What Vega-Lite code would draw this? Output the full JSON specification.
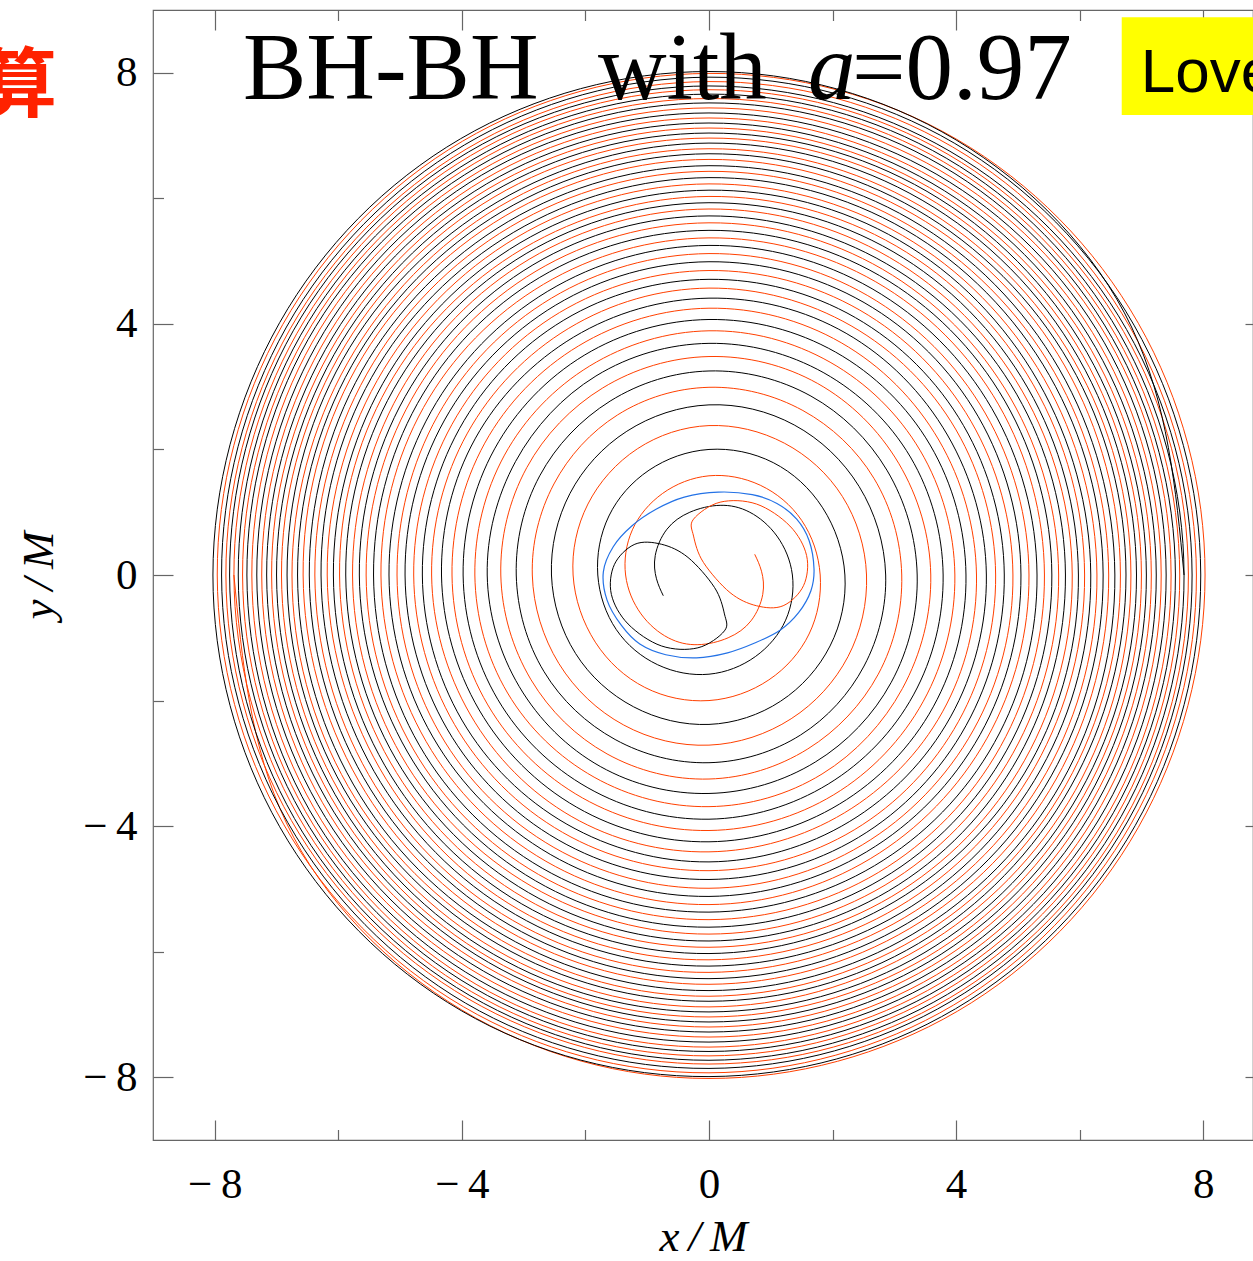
{
"$schema": "https://vega.github.io/schema/vega-lite/v6.json",
"width": 1100, "height": 1130,
"autosize": {"type": "none"},
"padding": {"left": 153, "top": 10, "right": 0, "bottom": 121},
"background": "white",
"config": {
  "view": {"stroke": "#666", "strokeWidth": 1.2},
  "axis": {"domain": false, "grid": false, "tickColor": "#666", "tickWidth": 1.2, "labelFont": "Liberation Serif", "labelFontSize": 43, "labelColor": "#000", "titleFont": "Liberation Serif", "titleFontSize": 45, "titleFontStyle": "italic", "titleFontWeight": "normal", "titleColor": "#000", "labelOverlap": false, "labelFlush": false}
},
"datasets": {
"blk": [{"x":7.69,"y":0},{"x":6.84,"y":3.95},{"x":4.0,"y":6.93},{"x":0,"y":8.02},{"x":-4.02,"y":6.95},{"x":-6.95,"y":4.02},{"x":-8.03,"y":0},{"x":-6.95,"y":-4.01},{"x":-4.01,"y":-6.94},{"x":0,"y":-7.99},{"x":3.99,"y":-6.91},{"x":6.9,"y":-3.99},
{"x":7.96,"y":0},{"x":6.88,"y":3.98},{"x":3.97,"y":6.88},{"x":0,"y":7.93},{"x":-3.96,"y":6.85},{"x":-6.84,"y":3.95},{"x":-7.89,"y":0},{"x":-6.82,"y":-3.94},{"x":-3.94,"y":-6.82},{"x":0,"y":-7.86},{"x":3.92,"y":-6.79},{"x":6.78,"y":-3.92},
{"x":7.82,"y":0},{"x":6.76,"y":3.91},{"x":3.9,"y":6.75},{"x":0,"y":7.79},{"x":-3.89,"y":6.74},{"x":-6.73,"y":3.89},{"x":-7.76,"y":0},{"x":-6.71,"y":-3.88},{"x":-3.87,"y":-6.7},{"x":0,"y":-7.73},{"x":3.86,"y":-6.68},{"x":6.67,"y":-3.85},
{"x":7.69,"y":0},{"x":6.65,"y":3.84},{"x":3.84,"y":6.64},{"x":0,"y":7.66},{"x":-3.82,"y":6.62},{"x":-6.61,"y":3.82},{"x":-7.62,"y":0},{"x":-6.59,"y":-3.81},{"x":-3.8,"y":-6.58},{"x":0,"y":-7.59},{"x":3.79,"y":-6.56},{"x":6.55,"y":-3.78},
{"x":7.55,"y":0},{"x":6.53,"y":3.77},{"x":3.77,"y":6.52},{"x":0,"y":7.52},{"x":-3.75,"y":6.5},{"x":-6.49,"y":3.75},{"x":-7.48,"y":0},{"x":-6.47,"y":-3.74},{"x":-3.73,"y":-6.45},{"x":0,"y":-7.44},{"x":3.72,"y":-6.43},{"x":6.42,"y":-3.71},
{"x":7.4,"y":0},{"x":6.4,"y":3.7},{"x":3.69,"y":6.38},{"x":0,"y":7.36},{"x":-3.68,"y":6.37},{"x":-6.35,"y":3.67},{"x":-7.32,"y":0},{"x":-6.33,"y":-3.66},{"x":-3.65,"y":-6.31},{"x":0,"y":-7.28},{"x":3.64,"y":-6.3},{"x":6.28,"y":-3.63},
{"x":7.24,"y":0},{"x":6.26,"y":3.62},{"x":3.61,"y":6.24},{"x":0,"y":7.2},{"x":-3.6,"y":6.23},{"x":-6.21,"y":3.59},{"x":-7.16,"y":0},{"x":-6.19,"y":-3.58},{"x":-3.57,"y":-6.17},{"x":0,"y":-7.12},{"x":3.56,"y":-6.16},{"x":6.14,"y":-3.55},
{"x":7.08,"y":0},{"x":6.12,"y":3.54},{"x":3.53,"y":6.11},{"x":0,"y":7.04},{"x":-3.52,"y":6.09},{"x":-6.07,"y":3.51},{"x":-7.0,"y":0},{"x":-6.05,"y":-3.5},{"x":-3.49,"y":-6.04},{"x":0,"y":-6.96},{"x":3.48,"y":-6.02},{"x":6.0,"y":-3.47},
{"x":6.92,"y":0},{"x":5.98,"y":3.46},{"x":3.45,"y":5.97},{"x":0,"y":6.88},{"x":-3.43,"y":5.94},{"x":-5.93,"y":3.43},{"x":-6.83,"y":0},{"x":-5.91,"y":-3.41},{"x":-3.4,"y":-5.89},{"x":0,"y":-6.79},{"x":3.39,"y":-5.87},{"x":5.85,"y":-3.38},
{"x":6.75,"y":0},{"x":5.84,"y":3.37},{"x":3.36,"y":5.82},{"x":0,"y":6.71},{"x":-3.35,"y":5.79},{"x":-5.78,"y":3.34},{"x":-6.66,"y":0},{"x":-5.76,"y":-3.33},{"x":-3.32,"y":-5.74},{"x":0,"y":-6.62},{"x":3.3,"y":-5.72},{"x":5.71,"y":-3.3},
{"x":6.57,"y":0},{"x":5.67,"y":3.28},{"x":3.27,"y":5.66},{"x":0,"y":6.52},{"x":-3.25,"y":5.63},{"x":-5.62,"y":3.25},{"x":-6.47,"y":0},{"x":-5.59,"y":-3.23},{"x":-3.22,"y":-5.58},{"x":0,"y":-6.43},{"x":3.21,"y":-5.55},{"x":5.54,"y":-3.2},
{"x":6.38,"y":0},{"x":5.51,"y":3.18},{"x":3.18,"y":5.5},{"x":0,"y":6.33},{"x":-3.16,"y":5.46},{"x":-5.46,"y":3.15},{"x":-6.28,"y":0},{"x":-5.42,"y":-3.13},{"x":-3.13,"y":-5.41},{"x":0,"y":-6.23},{"x":3.11,"y":-5.38},{"x":5.37,"y":-3.1},
{"x":6.18,"y":0},{"x":5.33,"y":3.08},{"x":3.08,"y":5.33},{"x":0,"y":6.13},{"x":-3.06,"y":5.29},{"x":-5.28,"y":3.05},{"x":-6.08,"y":0},{"x":-5.25,"y":-3.03},{"x":-3.03,"y":-5.24},{"x":0,"y":-6.03},{"x":3.01,"y":-5.2},{"x":5.2,"y":-3.0},
{"x":5.98,"y":0},{"x":5.16,"y":2.98},{"x":2.98,"y":5.15},{"x":0,"y":5.93},{"x":-2.96,"y":5.12},{"x":-5.11,"y":2.95},{"x":-5.88,"y":0},{"x":-5.07,"y":-2.93},{"x":-2.92,"y":-5.06},{"x":0,"y":-5.83},{"x":2.91,"y":-5.03},{"x":5.01,"y":-2.9},
{"x":5.77,"y":0},{"x":4.98,"y":2.88},{"x":2.87,"y":4.96},{"x":0,"y":5.72},{"x":-2.85,"y":4.94},{"x":-4.92,"y":2.84},{"x":-5.66,"y":0},{"x":-4.88,"y":-2.82},{"x":-2.81,"y":-4.87},{"x":0,"y":-5.61},{"x":2.8,"y":-4.84},{"x":4.82,"y":-2.79},
{"x":5.55,"y":0},{"x":4.79,"y":2.77},{"x":2.76,"y":4.77},{"x":0,"y":5.49},{"x":-2.74,"y":4.74},{"x":-4.72,"y":2.73},{"x":-5.43,"y":0},{"x":-4.69,"y":-2.71},{"x":-2.7,"y":-4.67},{"x":0,"y":-5.37},{"x":2.68,"y":-4.63},{"x":4.62,"y":-2.67},
{"x":5.31,"y":0},{"x":4.58,"y":2.65},{"x":2.64,"y":4.56},{"x":0,"y":5.25},{"x":-2.61,"y":4.52},{"x":-4.5,"y":2.6},{"x":-5.18,"y":0},{"x":-4.47,"y":-2.58},{"x":-2.57,"y":-4.45},{"x":0,"y":-5.12},{"x":2.55,"y":-4.41},{"x":4.39,"y":-2.54},
{"x":5.05,"y":0},{"x":4.36,"y":2.52},{"x":2.51,"y":4.34},{"x":0,"y":4.99},{"x":-2.48,"y":4.3},{"x":-4.28,"y":2.47},{"x":-4.92,"y":0},{"x":-4.24,"y":-2.45},{"x":-2.44,"y":-4.22},{"x":0,"y":-4.85},{"x":2.42,"y":-4.18},{"x":4.16,"y":-2.4},
{"x":4.78,"y":0},{"x":4.12,"y":2.38},{"x":2.37,"y":4.1},{"x":0,"y":4.71},{"x":-2.35,"y":4.06},{"x":-4.04,"y":2.33},{"x":-4.64,"y":0},{"x":-4.0,"y":-2.31},{"x":-2.3,"y":-3.97},{"x":0,"y":-4.57},{"x":2.27,"y":-3.93},{"x":3.91,"y":-2.26},
{"x":4.49,"y":0},{"x":3.86,"y":2.23},{"x":2.22,"y":3.85},{"x":0,"y":4.41},{"x":-2.19,"y":3.79},{"x":-3.78,"y":2.18},{"x":-4.33,"y":0},{"x":-3.72,"y":-2.15},{"x":-2.14,"y":-3.7},{"x":0,"y":-4.25},{"x":2.11,"y":-3.65},{"x":3.63,"y":-2.1},
{"x":4.16,"y":0},{"x":3.58,"y":2.07},{"x":2.05,"y":3.55},{"x":0,"y":4.07},{"x":-2.02,"y":3.5},{"x":-3.47,"y":2.01},{"x":-3.98,"y":0},{"x":-3.42,"y":-1.98},{"x":-1.96,"y":-3.39},{"x":0,"y":-3.89},{"x":1.93,"y":-3.33},{"x":3.31,"y":-1.91},
{"x":3.79,"y":0},{"x":3.26,"y":1.88},{"x":1.86,"y":3.22},{"x":0,"y":3.69},{"x":-1.83,"y":3.17},{"x":-3.13,"y":1.81},{"x":-3.59,"y":0},{"x":-3.07,"y":-1.78},{"x":-1.76,"y":-3.05},{"x":0,"y":-3.48},{"x":1.72,"y":-2.98},{"x":2.95,"y":-1.71},
{"x":3.37,"y":0},{"x":2.88,"y":1.67},{"x":1.65,"y":2.85},{"x":0,"y":3.25},{"x":-1.6,"y":2.77},{"x":-2.74,"y":1.58},{"x":-3.12,"y":0},{"x":-2.67,"y":-1.54},{"x":-1.52,"y":-2.62},{"x":0,"y":-2.99},{"x":1.48,"y":-2.55},{"x":2.51,"y":-1.45},
{"x":2.86,"y":0},{"x":2.43,"y":1.41},{"x":1.38,"y":2.39},{"x":0,"y":2.71},{"x":-1.33,"y":2.29},{"x":-2.25,"y":1.3},{"x":-2.55,"y":0},{"x":-2.16,"y":-1.25},{"x":-1.22,"y":-2.1},{"x":0,"y":-2.38},{"x":1.16,"y":-2.01},{"x":1.96,"y":-1.13},
{"x":2.2,"y":0},{"x":1.84,"y":1.07},{"x":1.04,"y":1.79},{"x":0,"y":2.0},{"x":-0.97,"y":1.67},{"x":-1.62,"y":0.94},{"x":-1.8,"y":0},{"x":-1.5,"y":-0.87},{"x":-0.83,"y":-1.43},{"x":0,"y":-1.58},{"x":0.75,"y":-1.3},{"x":1.24,"y":-0.72},
{"x":1.35,"y":0},{"x":1.1,"y":0.62},{"x":0.66,"y":1.0},{"x":0.18,"y":1.11},{"x":-0.31,"y":1.0},{"x":-0.68,"y":0.73},{"x":-0.87,"y":0.31},{"x":-0.85,"y":-0.06},{"x":-0.74,"y":-0.33}],
"org": [{"x":-7.69,"y":0},{"x":-6.84,"y":-3.95},{"x":-4.0,"y":-6.93},{"x":0,"y":-8.02},{"x":4.02,"y":-6.95},{"x":6.95,"y":-4.02},{"x":8.03,"y":0},{"x":6.95,"y":4.01},{"x":4.01,"y":6.94},{"x":0,"y":7.99},{"x":-3.99,"y":6.91},{"x":-6.9,"y":3.99},
{"x":-7.96,"y":0},{"x":-6.88,"y":-3.98},{"x":-3.97,"y":-6.88},{"x":0,"y":-7.93},{"x":3.96,"y":-6.85},{"x":6.84,"y":-3.95},{"x":7.89,"y":0},{"x":6.82,"y":3.94},{"x":3.94,"y":6.82},{"x":0,"y":7.86},{"x":-3.92,"y":6.79},{"x":-6.78,"y":3.92},
{"x":-7.82,"y":0},{"x":-6.76,"y":-3.91},{"x":-3.9,"y":-6.75},{"x":0,"y":-7.79},{"x":3.89,"y":-6.74},{"x":6.73,"y":-3.89},{"x":7.76,"y":0},{"x":6.71,"y":3.88},{"x":3.87,"y":6.7},{"x":0,"y":7.73},{"x":-3.86,"y":6.68},{"x":-6.67,"y":3.85},
{"x":-7.69,"y":0},{"x":-6.65,"y":-3.84},{"x":-3.84,"y":-6.64},{"x":0,"y":-7.66},{"x":3.82,"y":-6.62},{"x":6.61,"y":-3.82},{"x":7.62,"y":0},{"x":6.59,"y":3.81},{"x":3.8,"y":6.58},{"x":0,"y":7.59},{"x":-3.79,"y":6.56},{"x":-6.55,"y":3.78},
{"x":-7.55,"y":0},{"x":-6.53,"y":-3.77},{"x":-3.77,"y":-6.52},{"x":0,"y":-7.52},{"x":3.75,"y":-6.5},{"x":6.49,"y":-3.75},{"x":7.48,"y":0},{"x":6.47,"y":3.74},{"x":3.73,"y":6.45},{"x":0,"y":7.44},{"x":-3.72,"y":6.43},{"x":-6.42,"y":3.71},
{"x":-7.4,"y":0},{"x":-6.4,"y":-3.7},{"x":-3.69,"y":-6.38},{"x":0,"y":-7.36},{"x":3.68,"y":-6.37},{"x":6.35,"y":-3.67},{"x":7.32,"y":0},{"x":6.33,"y":3.66},{"x":3.65,"y":6.31},{"x":0,"y":7.28},{"x":-3.64,"y":6.3},{"x":-6.28,"y":3.63},
{"x":-7.24,"y":0},{"x":-6.26,"y":-3.62},{"x":-3.61,"y":-6.24},{"x":0,"y":-7.2},{"x":3.6,"y":-6.23},{"x":6.21,"y":-3.59},{"x":7.16,"y":0},{"x":6.19,"y":3.58},{"x":3.57,"y":6.17},{"x":0,"y":7.12},{"x":-3.56,"y":6.16},{"x":-6.14,"y":3.55},
{"x":-7.08,"y":0},{"x":-6.12,"y":-3.54},{"x":-3.53,"y":-6.11},{"x":0,"y":-7.04},{"x":3.52,"y":-6.09},{"x":6.07,"y":-3.51},{"x":7.0,"y":0},{"x":6.05,"y":3.5},{"x":3.49,"y":6.04},{"x":0,"y":6.96},{"x":-3.48,"y":6.02},{"x":-6.0,"y":3.47},
{"x":-6.92,"y":0},{"x":-5.98,"y":-3.46},{"x":-3.45,"y":-5.97},{"x":0,"y":-6.88},{"x":3.43,"y":-5.94},{"x":5.93,"y":-3.43},{"x":6.83,"y":0},{"x":5.91,"y":3.41},{"x":3.4,"y":5.89},{"x":0,"y":6.79},{"x":-3.39,"y":5.87},{"x":-5.85,"y":3.38},
{"x":-6.75,"y":0},{"x":-5.84,"y":-3.37},{"x":-3.36,"y":-5.82},{"x":0,"y":-6.71},{"x":3.35,"y":-5.79},{"x":5.78,"y":-3.34},{"x":6.66,"y":0},{"x":5.76,"y":3.33},{"x":3.32,"y":5.74},{"x":0,"y":6.62},{"x":-3.3,"y":5.72},{"x":-5.71,"y":3.3},
{"x":-6.57,"y":0},{"x":-5.67,"y":-3.28},{"x":-3.27,"y":-5.66},{"x":0,"y":-6.52},{"x":3.25,"y":-5.63},{"x":5.62,"y":-3.25},{"x":6.47,"y":0},{"x":5.59,"y":3.23},{"x":3.22,"y":5.58},{"x":0,"y":6.43},{"x":-3.21,"y":5.55},{"x":-5.54,"y":3.2},
{"x":-6.38,"y":0},{"x":-5.51,"y":-3.18},{"x":-3.18,"y":-5.5},{"x":0,"y":-6.33},{"x":3.16,"y":-5.46},{"x":5.46,"y":-3.15},{"x":6.28,"y":0},{"x":5.42,"y":3.13},{"x":3.13,"y":5.41},{"x":0,"y":6.23},{"x":-3.11,"y":5.38},{"x":-5.37,"y":3.1},
{"x":-6.18,"y":0},{"x":-5.33,"y":-3.08},{"x":-3.08,"y":-5.33},{"x":0,"y":-6.13},{"x":3.06,"y":-5.29},{"x":5.28,"y":-3.05},{"x":6.08,"y":0},{"x":5.25,"y":3.03},{"x":3.03,"y":5.24},{"x":0,"y":6.03},{"x":-3.01,"y":5.2},{"x":-5.2,"y":3.0},
{"x":-5.98,"y":0},{"x":-5.16,"y":-2.98},{"x":-2.98,"y":-5.15},{"x":0,"y":-5.93},{"x":2.96,"y":-5.12},{"x":5.11,"y":-2.95},{"x":5.88,"y":0},{"x":5.07,"y":2.93},{"x":2.92,"y":5.06},{"x":0,"y":5.83},{"x":-2.91,"y":5.03},{"x":-5.01,"y":2.9},
{"x":-5.77,"y":0},{"x":-4.98,"y":-2.88},{"x":-2.87,"y":-4.96},{"x":0,"y":-5.72},{"x":2.85,"y":-4.94},{"x":4.92,"y":-2.84},{"x":5.66,"y":0},{"x":4.88,"y":2.82},{"x":2.81,"y":4.87},{"x":0,"y":5.61},{"x":-2.8,"y":4.84},{"x":-4.82,"y":2.79},
{"x":-5.55,"y":0},{"x":-4.79,"y":-2.77},{"x":-2.76,"y":-4.77},{"x":0,"y":-5.49},{"x":2.74,"y":-4.74},{"x":4.72,"y":-2.73},{"x":5.43,"y":0},{"x":4.69,"y":2.71},{"x":2.7,"y":4.67},{"x":0,"y":5.37},{"x":-2.68,"y":4.63},{"x":-4.62,"y":2.67},
{"x":-5.31,"y":0},{"x":-4.58,"y":-2.65},{"x":-2.64,"y":-4.56},{"x":0,"y":-5.25},{"x":2.61,"y":-4.52},{"x":4.5,"y":-2.6},{"x":5.18,"y":0},{"x":4.47,"y":2.58},{"x":2.57,"y":4.45},{"x":0,"y":5.12},{"x":-2.55,"y":4.41},{"x":-4.39,"y":2.54},
{"x":-5.05,"y":0},{"x":-4.36,"y":-2.52},{"x":-2.51,"y":-4.34},{"x":0,"y":-4.99},{"x":2.48,"y":-4.3},{"x":4.28,"y":-2.47},{"x":4.92,"y":0},{"x":4.24,"y":2.45},{"x":2.44,"y":4.22},{"x":0,"y":4.85},{"x":-2.42,"y":4.18},{"x":-4.16,"y":2.4},
{"x":-4.78,"y":0},{"x":-4.12,"y":-2.38},{"x":-2.37,"y":-4.1},{"x":0,"y":-4.71},{"x":2.35,"y":-4.06},{"x":4.04,"y":-2.33},{"x":4.64,"y":0},{"x":4.0,"y":2.31},{"x":2.3,"y":3.97},{"x":0,"y":4.57},{"x":-2.27,"y":3.93},{"x":-3.91,"y":2.26},
{"x":-4.49,"y":0},{"x":-3.86,"y":-2.23},{"x":-2.22,"y":-3.85},{"x":0,"y":-4.41},{"x":2.19,"y":-3.79},{"x":3.78,"y":-2.18},{"x":4.33,"y":0},{"x":3.72,"y":2.15},{"x":2.14,"y":3.7},{"x":0,"y":4.25},{"x":-2.11,"y":3.65},{"x":-3.63,"y":2.1},
{"x":-4.16,"y":0},{"x":-3.58,"y":-2.07},{"x":-2.05,"y":-3.55},{"x":0,"y":-4.07},{"x":2.02,"y":-3.5},{"x":3.47,"y":-2.01},{"x":3.98,"y":0},{"x":3.42,"y":1.98},{"x":1.96,"y":3.39},{"x":0,"y":3.89},{"x":-1.93,"y":3.33},{"x":-3.31,"y":1.91},
{"x":-3.79,"y":0},{"x":-3.26,"y":-1.88},{"x":-1.86,"y":-3.22},{"x":0,"y":-3.69},{"x":1.83,"y":-3.17},{"x":3.13,"y":-1.81},{"x":3.59,"y":0},{"x":3.07,"y":1.78},{"x":1.76,"y":3.05},{"x":0,"y":3.48},{"x":-1.72,"y":2.98},{"x":-2.95,"y":1.71},
{"x":-3.37,"y":0},{"x":-2.88,"y":-1.67},{"x":-1.65,"y":-2.85},{"x":0,"y":-3.25},{"x":1.6,"y":-2.77},{"x":2.74,"y":-1.58},{"x":3.12,"y":0},{"x":2.67,"y":1.54},{"x":1.52,"y":2.62},{"x":0,"y":2.99},{"x":-1.48,"y":2.55},{"x":-2.51,"y":1.45},
{"x":-2.86,"y":0},{"x":-2.43,"y":-1.41},{"x":-1.38,"y":-2.39},{"x":0,"y":-2.71},{"x":1.33,"y":-2.29},{"x":2.25,"y":-1.3},{"x":2.55,"y":0},{"x":2.16,"y":1.25},{"x":1.22,"y":2.1},{"x":0,"y":2.38},{"x":-1.16,"y":2.01},{"x":-1.96,"y":1.13},
{"x":-2.2,"y":0},{"x":-1.84,"y":-1.07},{"x":-1.04,"y":-1.79},{"x":0,"y":-2.0},{"x":0.97,"y":-1.67},{"x":1.62,"y":-0.94},{"x":1.8,"y":0},{"x":1.5,"y":0.87},{"x":0.83,"y":1.43},{"x":0,"y":1.58},{"x":-0.75,"y":1.3},{"x":-1.24,"y":0.72},
{"x":-1.35,"y":0},{"x":-1.1,"y":-0.62},{"x":-0.66,"y":-1.0},{"x":-0.18,"y":-1.11},{"x":0.31,"y":-1.0},{"x":0.68,"y":-0.73},{"x":0.87,"y":-0.31},{"x":0.85,"y":0.06},{"x":0.74,"y":0.33}],
"bloop": [{"x":0.25,"y":-0.89},{"x":-0.18,"y":-1.16},{"x":-0.77,"y":-1.13},{"x":-1.31,"y":-0.78},{"x":-1.58,"y":-0.31},{"x":-1.53,"y":0.17},{"x":-1.2,"y":0.49},{"x":-0.77,"y":0.49},{"x":-0.34,"y":0.28},{"x":0.09,"y":-0.2},{"x":0.25,"y":-0.62}],
"oloop": [{"x":-0.25,"y":0.89},{"x":0.18,"y":1.16},{"x":0.77,"y":1.13},{"x":1.31,"y":0.78},{"x":1.58,"y":0.31},{"x":1.53,"y":-0.17},{"x":1.2,"y":-0.49},{"x":0.77,"y":-0.49},{"x":0.34,"y":-0.28},{"x":-0.09,"y":0.2},{"x":-0.25,"y":0.62}],
"hz": [{"x":1.7,"y":0.1},{"x":1.62,"y":0.55},{"x":1.42,"y":0.89},{"x":1.1,"y":1.14},{"x":0.7,"y":1.28},{"x":0.15,"y":1.32},{"x":-0.4,"y":1.24},{"x":-0.85,"y":1.05},{"x":-1.25,"y":0.78},{"x":-1.55,"y":0.45},{"x":-1.71,"y":0.05},{"x":-1.65,"y":-0.4},{"x":-1.42,"y":-0.8},{"x":-1.12,"y":-1.1},{"x":-0.7,"y":-1.27},{"x":-0.2,"y":-1.32},{"x":0.3,"y":-1.24},{"x":0.75,"y":-1.08},{"x":1.15,"y":-0.88},{"x":1.45,"y":-0.6},{"x":1.65,"y":-0.25}],
"ttl": [{"t":"BH-BH","x":-7.543,"y":7.582},{"t":"with","x":-1.797,"y":7.582},{"t":"=0.97","x":2.315,"y":7.582}],
"ttla": [{"t":"a","x":1.603,"y":7.582}],
"box": [{"x":6.681,"x2":9.5,"y":8.884,"y2":7.327}],
"love": [{"t":"Love","x":6.99,"y":7.694}],
"kanji": [{"t":"算","x":-11.17,"y":7.76}]
},
"layer": [
{"data": {"name": "org"},
 "mark": {"type": "line", "interpolate": "natural", "color": "#ff4000", "strokeWidth": 1},
 "encoding": {
  "x": {"field": "x", "type": "quantitative", "scale": {"domain": [-9, 8.806], "nice": false, "zero": false},
        "axis": {"orient": "bottom", "values": [-8,-6,-4,-2,0,2,4,6,8], "labelExpr": "datum.value % 4 === 0 ? (datum.value < 0 ? '−\u2009' + abs(datum.value) : '' + datum.value) : ''", "tickSize": {"condition": {"test": "datum.value % 4 === 0", "value": -20}, "value": -10.5}, "labelPadding": 43, "title": "x\u2009/\u2009M", "titlePadding": -1}},
  "y": {"field": "y", "type": "quantitative", "scale": {"domain": [-9, 9], "nice": false, "zero": false},
        "axis": {"orient": "left", "values": [-8,-6,-4,-2,0,2,4,6,8], "labelExpr": "datum.value % 4 === 0 ? (datum.value < 0 ? '−\u2009' + abs(datum.value) : '' + datum.value) : ''", "tickSize": {"condition": {"test": "datum.value % 4 === 0", "value": -20}, "value": -10.5}, "labelPadding": 36, "title": "y\u2009/\u2009M", "titlePadding": 21}},
  "order": {"value": null}
 }},
{"data": {"name": "blk"},
 "mark": {"type": "line", "interpolate": "natural", "color": "#000000", "strokeWidth": 1},
 "encoding": {
  "x": {"field": "x", "type": "quantitative", "axis": {"orient": "top", "values": [-8,-6,-4,-2,0,2,4,6,8], "labels": false, "tickSize": {"condition": {"test": "datum.value % 4 === 0", "value": -20}, "value": -10.5}, "title": null}},
  "y": {"field": "y", "type": "quantitative", "axis": {"orient": "right", "values": [-8,-6,-4,-2,0,2,4,6,8], "labels": false, "tickSize": {"condition": {"test": "datum.value % 4 === 0", "value": -8}, "value": 0}, "title": null}},
  "order": {"value": null}
 }},
{"data": {"name": "bloop"},
 "mark": {"type": "line", "interpolate": "cardinal-closed", "color": "#000000", "strokeWidth": 1},
 "encoding": {"x": {"field": "x", "type": "quantitative", "axis": null}, "y": {"field": "y", "type": "quantitative", "axis": null}, "order": {"value": null}}},
{"data": {"name": "oloop"},
 "mark": {"type": "line", "interpolate": "cardinal-closed", "color": "#ff4000", "strokeWidth": 1},
 "encoding": {"x": {"field": "x", "type": "quantitative", "axis": null}, "y": {"field": "y", "type": "quantitative", "axis": null}, "order": {"value": null}}},
{"data": {"name": "hz"},
 "mark": {"type": "line", "interpolate": "cardinal-closed", "color": "#2472e6", "strokeWidth": 1.2},
 "encoding": {"x": {"field": "x", "type": "quantitative", "axis": null}, "y": {"field": "y", "type": "quantitative", "axis": null}, "order": {"value": null}}},
{"data": {"name": "ttl"},
 "mark": {"type": "text", "font": "Liberation Serif", "fontSize": 95, "align": "left", "baseline": "alphabetic", "color": "#000000"},
 "encoding": {"x": {"field": "x", "type": "quantitative", "axis": null}, "y": {"field": "y", "type": "quantitative", "axis": null}, "text": {"field": "t"}}},
{"data": {"name": "ttla"},
 "mark": {"type": "text", "font": "Liberation Serif", "fontSize": 95, "fontStyle": "italic", "align": "left", "baseline": "alphabetic", "color": "#000000"},
 "encoding": {"x": {"field": "x", "type": "quantitative", "axis": null}, "y": {"field": "y", "type": "quantitative", "axis": null}, "text": {"field": "t"}}},
{"data": {"name": "box"},
 "mark": {"type": "rect", "color": "#ffff00"},
 "encoding": {"x": {"field": "x", "type": "quantitative", "axis": null}, "x2": {"field": "x2"}, "y": {"field": "y", "type": "quantitative", "axis": null}, "y2": {"field": "y2"}}},
{"data": {"name": "love"},
 "mark": {"type": "text", "font": "Liberation Sans", "fontSize": 62, "align": "left", "baseline": "alphabetic", "color": "#000000"},
 "encoding": {"x": {"field": "x", "type": "quantitative", "axis": null}, "y": {"field": "y", "type": "quantitative", "axis": null}, "text": {"field": "t"}}},
{"data": {"name": "kanji"},
 "mark": {"type": "text", "font": "Noto Sans CJK SC", "fontSize": 76, "fontWeight": "bold", "align": "center", "baseline": "middle", "color": "#ff2200"},
 "encoding": {"x": {"field": "x", "type": "quantitative", "axis": null}, "y": {"field": "y", "type": "quantitative", "axis": null}, "text": {"field": "t"}}}
],
"resolve": {"axis": {"x": "independent", "y": "independent"}}
}
